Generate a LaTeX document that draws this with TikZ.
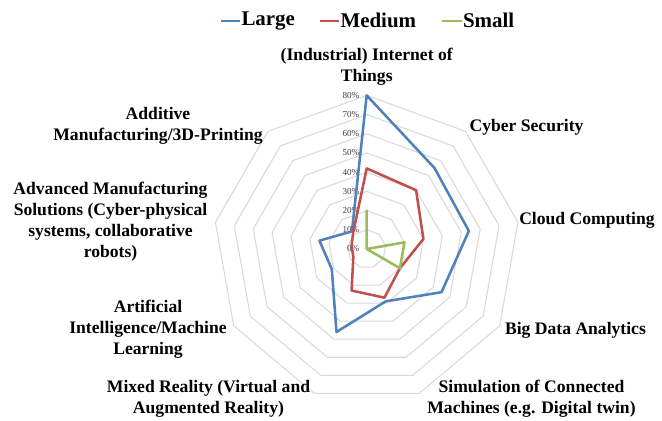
\documentclass[tikz,border=0pt]{standalone}
\usepackage{fontspec}
\setmainfont{Liberation Serif}

\definecolor{xlBlue}{HTML}{4F81BD}
\definecolor{xlRed}{HTML}{C0504D}
\definecolor{xlGreen}{HTML}{9BBB59}
\definecolor{xlGrid}{HTML}{D9D9D9}
\definecolor{xlTick}{HTML}{404040}

\tikzset{every picture/.style={line width=0.75pt}}
\tikzset{
  gridline/.style={draw=xlGrid, line width=0.8pt, line join=round},
  serLarge/.style={draw=xlBlue, line width=1.9pt, line join=round},
  serMedium/.style={draw=xlRed, line width=1.9pt, line join=round},
  serSmall/.style={draw=xlGreen, line width=1.9pt, line join=round},
  catlabel/.style={inner sep=0.75pt, align=center, font=\fontsize{13.2}{15.6}\selectfont\bfseries},
  ticklabel/.style={anchor=east, inner sep=0.75pt, text=xlTick, font=\fontsize{6.8}{7}\selectfont},
  legendlabel/.style={anchor=west, inner sep=0.75pt, font=\fontsize{15.7}{18}\selectfont\bfseries}
}

\begin{document}
\begin{tikzpicture}[x=0.75pt,y=0.75pt,yscale=-1,xscale=1]
\useasboundingbox (0,0) rectangle (662,421);

\begin{scope}[shift={(366.7,249)}]
%Shape: Polygon [ring 10%]
\draw [gridline] (-90:19.2) -- (-50:19.2) -- (-10:19.2) -- (30:19.2) -- (70:19.2) -- (110:19.2) -- (150:19.2) -- (190:19.2) -- (230:19.2) -- cycle ;
%Shape: Polygon [ring 20%]
\draw [gridline] (-90:38.4) -- (-50:38.4) -- (-10:38.4) -- (30:38.4) -- (70:38.4) -- (110:38.4) -- (150:38.4) -- (190:38.4) -- (230:38.4) -- cycle ;
%Shape: Polygon [ring 30%]
\draw [gridline] (-90:57.6) -- (-50:57.6) -- (-10:57.6) -- (30:57.6) -- (70:57.6) -- (110:57.6) -- (150:57.6) -- (190:57.6) -- (230:57.6) -- cycle ;
%Shape: Polygon [ring 40%]
\draw [gridline] (-90:76.8) -- (-50:76.8) -- (-10:76.8) -- (30:76.8) -- (70:76.8) -- (110:76.8) -- (150:76.8) -- (190:76.8) -- (230:76.8) -- cycle ;
%Shape: Polygon [ring 50%]
\draw [gridline] (-90:96) -- (-50:96) -- (-10:96) -- (30:96) -- (70:96) -- (110:96) -- (150:96) -- (190:96) -- (230:96) -- cycle ;
%Shape: Polygon [ring 60%]
\draw [gridline] (-90:115.2) -- (-50:115.2) -- (-10:115.2) -- (30:115.2) -- (70:115.2) -- (110:115.2) -- (150:115.2) -- (190:115.2) -- (230:115.2) -- cycle ;
%Shape: Polygon [ring 70%]
\draw [gridline] (-90:134.4) -- (-50:134.4) -- (-10:134.4) -- (30:134.4) -- (70:134.4) -- (110:134.4) -- (150:134.4) -- (190:134.4) -- (230:134.4) -- cycle ;
%Shape: Polygon [ring 80%]
\draw [gridline] (-90:153.6) -- (-50:153.6) -- (-10:153.6) -- (30:153.6) -- (70:153.6) -- (110:153.6) -- (150:153.6) -- (190:153.6) -- (230:153.6) -- cycle ;

% Text Node
\node (t0) [ticklabel] at (-6,0) {0\%};
% Text Node
\node (t10) [ticklabel] at (-6,-19.2) {10\%};
% Text Node
\node (t20) [ticklabel] at (-6,-38.4) {20\%};
% Text Node
\node (t30) [ticklabel] at (-6,-57.6) {30\%};
% Text Node
\node (t40) [ticklabel] at (-6,-76.8) {40\%};
% Text Node
\node (t50) [ticklabel] at (-6,-96) {50\%};
% Text Node
\node (t60) [ticklabel] at (-6,-115.2) {60\%};
% Text Node
\node (t70) [ticklabel] at (-6,-134.4) {70\%};
% Text Node
\node (t80) [ticklabel] at (-6,-153.6) {80\%};

%Shape: Polygon [Large]
\draw [serLarge] (-90:153.6) -- (-50:105.6) -- (-10:103.7) -- (30:86.4) -- (70:55.7) -- (110:88.3) -- (150:40.3) -- (190:48) -- (230:23) -- cycle ;
%Shape: Polygon [Medium]
\draw [serMedium] (-90:80.6) -- (-50:76.8) -- (-10:57.6) -- (30:38.4) -- (70:51.8) -- (110:44.2) -- (150:15.4) -- (190:15.4) -- (230:21.1) -- cycle ;
%Shape: Polygon [Small]
\draw [serSmall] (-90:38.4) -- (-50:0) -- (-10:38.4) -- (30:38.4) -- (70:0) -- (110:0) -- (150:0) -- (190:0) -- (230:0) -- cycle ;
\end{scope}

% Text Node
\node (iiot) [catlabel] at (366.7,66.5) {(Industrial) Internet of\\Things};
% Text Node
\node (cyber) [catlabel] at (526.5,127) {Cyber Security};
% Text Node
\node (cloud) [catlabel] at (587,220) {Cloud Computing};
% Text Node
\node (bigdata) [catlabel] at (575.5,330) {Big Data Analytics};
% Text Node
\node (simul) [catlabel] at (531.5,399) {Simulation of Connected\\Machines (e.g. Digital twin)};
% Text Node
\node (mixed) [catlabel] at (208.5,399) {Mixed Reality (Virtual and\\Augmented Reality)};
% Text Node
\node (aiml) [catlabel] at (148,329) {Artificial\\Intelligence/Machine\\Learning};
% Text Node
\node (advmfg) [catlabel] at (110.5,221.5) {Advanced Manufacturing\\Solutions (Cyber-physical\\systems, collaborative\\robots)};
% Text Node
\node (additive) [catlabel] at (158,126) {Additive\\Manufacturing/3D-Printing};

% Legend
\node (lgLarge) [legendlabel] at (240,20.5) {Large};
\coordinate (lgLargeTip) at (221,20.5);
\draw [serLarge, line width=1.5pt] (lgLargeTip) -- (lgLarge.west);
\node (lgMedium) [legendlabel] at (339,20.5) {Medium};
\coordinate (lgMediumTip) at (320,20.5);
\draw [serMedium, line width=1.5pt] (lgMediumTip) -- (lgMedium.west);
\node (lgSmall) [legendlabel] at (461.5,20.5) {Small};
\coordinate (lgSmallTip) at (442,20.5);
\draw [serSmall, line width=1.5pt] (lgSmallTip) -- (lgSmall.west);

\end{tikzpicture}
\end{document}
